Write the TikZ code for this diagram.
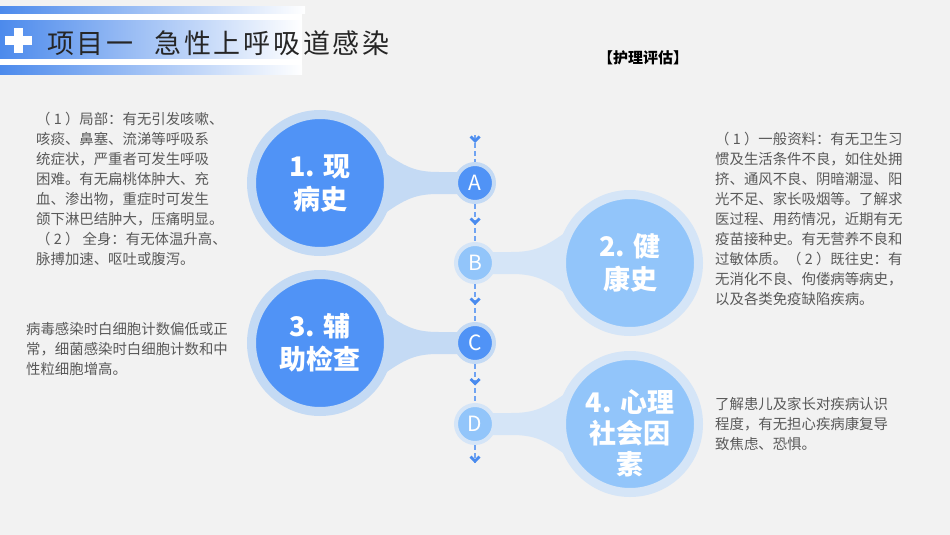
\documentclass[tikz,border=0pt]{standalone}
\usepackage{fontspec}
\setmainfont{Noto Sans CJK SC}
\newfontfamily\titlefont[LetterSpace=10]{Noto Sans CJK SC}
\usetikzlibrary{arrows.meta,positioning,calc,decorations.markings,backgrounds}
\definecolor{Page}{HTML}{F2F2F2}
\definecolor{Ink}{HTML}{262626}
\definecolor{Muted}{HTML}{595959}
\definecolor{HeadBlue}{HTML}{4C8AEC}
\definecolor{HeadMid}{HTML}{9DC8F8}
\definecolor{DeepBlue}{HTML}{5093F6}
\definecolor{DeepRing}{HTML}{C4DAF4}
\definecolor{SoftBlue}{HTML}{92C5FA}
\definecolor{SoftRing}{HTML}{D5E5F7}
\definecolor{LineBlue}{HTML}{6FA3F2}
\definecolor{ChevBlue}{HTML}{4A8BEE}
\tikzset{
  bigdark/.style={circle,fill=DeepBlue,draw=DeepRing,line width=9pt,minimum size=137pt,inner sep=0pt,align=center,font=\fontsize{27}{33}\selectfont\bfseries,text=white},
  biglight/.style={bigdark,fill=SoftBlue,draw=SoftRing},
  bigtext/.style={align=center,font=\fontsize{27}{31}\selectfont\bfseries,text=white,inner sep=0pt},
  dotdark/.style={circle,fill=DeepBlue,draw=DeepRing,line width=4pt,minimum size=38pt,inner sep=0pt,font=\fontsize{21}{21}\selectfont,text=white},
  dotlight/.style={dotdark,fill=SoftBlue,draw=SoftRing},
  note/.style={align=left,anchor=north west,inner sep=0pt,font=\fontsize{14.4}{20}\selectfont,text=Muted},
  spine/.style={draw=LineBlue,line width=1.6pt,dash pattern=on 5pt off 3pt},
  chev/.style={decoration={markings,mark=at position #1 with {\fill[ChevBlue] (2pt,0pt) -- (-3.5pt,5.5pt) -- (-5.5pt,3.5pt) -- (-2pt,0pt) -- (-5.5pt,-3.5pt) -- (-3.5pt,-5.5pt) -- cycle;}},postaction={decorate}},
  chev/.default=0.5
}

\begin{document}
\begin{tikzpicture}[x=1pt,y=-1pt]
  \useasboundingbox (0,0) rectangle (950,535);

  % header band
  \shade[left color=HeadBlue,middle color=HeadMid,right color=white] (0,7) rectangle (305,14);
  \fill[white] (0,14) rectangle (302,66);
  \shade[left color=HeadBlue,middle color=HeadMid,right color=white] (0,21) rectangle (302,59);
  \shade[left color=HeadBlue,middle color=HeadMid,right color=white] (0,66) rectangle (302,74);
  \fill[white] (13.5,28) rectangle (22.7,53);
  \fill[white] (5,36) rectangle (31.7,45.3);
  \node[anchor=west,inner sep=0pt,font=\titlefont\fontsize{27}{27}\selectfont,text=Ink] (title) at (47,43) {项目一\hspace{21pt}急性上呼吸道感染};
  \node[font=\fontsize{15}{15}\selectfont\bfseries,text=black] (tag) at (643,58) {【护理评估】};

  % bubbles
  \node[bigdark] (hist) at (320,183) {1. 现\\病史};
  \node[dotdark] (a) at (475,183) {A};
  \node[biglight] (past) at (630,263) {2. 健\\康史};
  \node[dotlight] (b) at (475,263) {B};
  \node[bigdark] (aux) at (320,343) {3. 辅\\助检查};
  \node[dotdark] (c) at (475,343) {C};
  \node[biglight,label={[bigtext,yshift=-9pt]center:4. 心理\\社会因\\素}] (psy) at (630,424) {};
  \node[dotlight] (d) at (475,424) {D};
  \coordinate (top) at (475,135);
  \coordinate (bot) at (475,463);

  % notes
  \node[note] (n1) at (36,112) {（\ 1\ ）局部：有无引发咳嗽、\\咳痰、鼻塞、流涕等呼吸系\\统症状，严重者可发生呼吸\\困难。有无扁桃体肿大、充\\血、渗出物，重症时可发生\\颌下淋巴结肿大，压痛明显。\\（\ 2\ ） 全身：有无体温升高、\\脉搏加速、呕吐或腹泻。};
  \node[note] (n2) at (715,132) {（\ 1\ ）一般资料：有无卫生习\\惯及生活条件不良，如住处拥\\挤、通风不良、阴暗潮湿、阳\\光不足、家长吸烟等。了解求\\医过程、用药情况，近期有无\\疫苗接种史。有无营养不良和\\过敏体质。（\ 2\ ）既往史：有\\无消化不良、佝偻病等病史，\\以及各类免疫缺陷疾病。};
  \node[note] (n3) at (26,322) {病毒感染时白细胞计数偏低或正\\常，细菌感染时白细胞计数和中\\性粒细胞增高。};
  \node[note] (n4) at (715,397) {了解患儿及家长对疾病认识\\程度，有无担心疾病康复导\\致焦虑、恐惧。};

  \begin{scope}[on background layer]
    \fill[Page] (0,0) rectangle (950,535);
    % stems from big bubbles to the letters
    \foreach \big/\dot/\dir/\col in {hist/a/1/DeepRing,past/b/-1/SoftRing,aux/c/1/DeepRing,psy/d/-1/SoftRing}
      \fill[\col] ($(\big.center)+(\dir*61,-33)$) .. controls ($(\big.center)+(\dir*85,-16)$) and ($(\dot.center)+(\dir*-60,-11)$) .. ($(\dot.center)+(\dir*-36,-11)$)
        -- ($(\dot.center)+(0,-11)$) -- ($(\dot.center)+(0,11)$) -- ($(\dot.center)+(\dir*-36,11)$)
        .. controls ($(\dot.center)+(\dir*-60,11)$) and ($(\big.center)+(\dir*85,16)$) .. ($(\big.center)+(\dir*61,33)$) -- cycle;
    % dashed spine
    \draw[spine,chev=6pt] (top) -- (a);
    \draw[spine,chev] (a) -- (b);
    \draw[spine,chev] (b) -- (c);
    \draw[spine,chev] (c) -- (d);
    \draw[spine,chev=0.9] (d) -- (bot);
  \end{scope}
\end{tikzpicture}
\end{document}
